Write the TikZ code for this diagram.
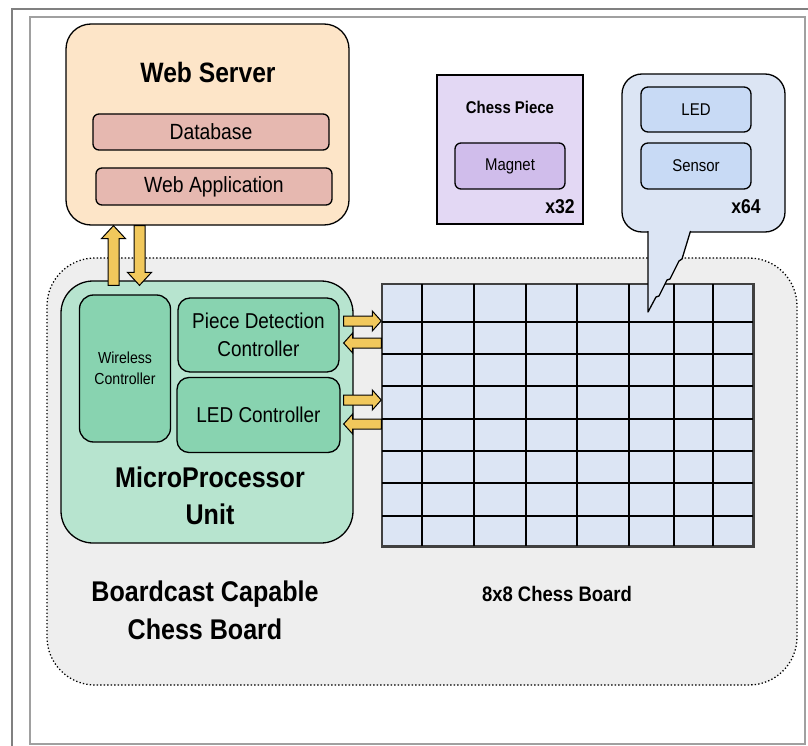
\documentclass[tikz,border=0pt]{standalone}
\usepackage{fontspec}
\setmainfont{Liberation Sans}[FakeStretch=0.88]
\usetikzlibrary{calc}
\definecolor{wsfill}{HTML}{FDE5C8}
\definecolor{dbfill}{HTML}{E6B8B0}
\definecolor{cpfill}{HTML}{E3D8F4}
\definecolor{magfill}{HTML}{D0BDEB}
\definecolor{callfill}{HTML}{DCE5F4}
\definecolor{ledfill}{HTML}{C8DAF5}
\definecolor{regionfill}{HTML}{EEEEEE}
\definecolor{mcufill}{HTML}{B7E4CF}
\definecolor{ctrlfill}{HTML}{88D3B0}
\definecolor{arrowfill}{HTML}{F1C85C}
\definecolor{boardfill}{HTML}{DCE5F4}
\definecolor{frameout}{HTML}{808080}
\definecolor{framein}{HTML}{A0A0A0}
\newcommand{\fsz}[2]{\fontsize{#1}{#2}\selectfont}
\tikzset{
  box/.style={draw=black, line width=1.3pt, inner sep=0pt, align=center},
  lbl/.style={inner sep=0pt, align=center},
  fat/.style={draw=black, line width=1pt, fill=arrowfill},
  gridline/.style={draw=black, line width=1.4pt},
}
% #1 from, #2 to, #3 shaft half width, #4 head half width, #5 head length
\newcommand{\fatarrow}[5]{%
  \path[fat] let \p1=#1, \p2=#2, \n1={atan2(\y2-\y1,\x2-\x1)}, \n2={veclen(\x2-\x1,\y2-\y1)} in
    [shift={(\p1)}, rotate=\n1]
    (0,-#3) -- ({\n2-#5},-#3) -- ({\n2-#5},-#4) -- (\n2,0) -- ({\n2-#5},#4) -- ({\n2-#5},#3) -- (0,#3) -- cycle;}
\begin{document}
\begin{tikzpicture}[x=1pt,y=-1pt]
\useasboundingbox (0,0) rectangle (808,746);
% frames
\draw[frameout, line width=2pt] (12,746) -- (12,9) -- (808,9);
\draw[framein, line width=1.5pt] (30,744) -- (30,17) -- (805,17) -- (805,744) -- cycle;

% web server
\node[box, fill=wsfill, rounded corners=25pt, minimum width=283pt, minimum height=201pt] (ws) at (207.5,124.5) {};
\node[lbl, font=\fsz{28}{32}\bfseries] (wst) at (208,72) {Web Server};
\node[box, fill=dbfill, rounded corners=6pt, minimum width=236pt, minimum height=36pt, font=\fsz{22}{26}] (db) at (211,132) {Database};
\node[box, fill=dbfill, rounded corners=6pt, minimum width=236pt, minimum height=37pt, font=\fsz{22}{26}] (wa) at (214,186.5) {Web Application};

% chess piece
\node[box, fill=cpfill, minimum width=146pt, minimum height=149pt] (cp) at (510,149.5) {};
\node[lbl, font=\fsz{17}{20}\bfseries] (cpt) at (510,107) {Chess Piece};
\node[box, fill=magfill, rounded corners=6pt, minimum width=110pt, minimum height=46pt, font=\fsz{17}{20}] (mag) at (510,166) {Magnet};
\node[lbl, font=\fsz{20}{24}\bfseries] (x32) at (560,207) {x32};

% board region
\node[draw=black, line width=1.3pt, dash pattern=on 1.3pt off 2.2pt, fill=regionfill, rounded corners=48pt, minimum width=750pt, minimum height=427pt, inner sep=0pt] (region) at (422,471.5) {};

% MCU
\node[box, fill=mcufill, rounded corners=32pt, minimum width=292pt, minimum height=262pt] (mcu) at (207,412) {};
\node[box, fill=ctrlfill, rounded corners=14pt, minimum width=91pt, minimum height=147pt, font=\fsz{16}{21}] (wc) at (125,368.5) {Wireless\\Controller};
\node[box, fill=ctrlfill, rounded corners=12pt, minimum width=161pt, minimum height=74pt, font=\fsz{21.5}{28}] (pdc) at (258.5,335) {Piece Detection\\Controller};
\node[box, fill=ctrlfill, rounded corners=12pt, minimum width=163pt, minimum height=75pt, font=\fsz{21.5}{28}] (ledc) at (258.5,415) {LED Controller};
\node[lbl, font=\fsz{28.5}{37}\bfseries] (mcut) at (210,496) {MicroProcessor\\Unit};

% chess board
\node[draw=black!75, line width=1.5pt, fill=boardfill, minimum width=371pt, minimum height=262pt, inner sep=0pt] (board) at (567.5,415) {};
\foreach \gx in {422,474,526,577,629,674,713}
  \draw[gridline] (\gx,284) -- (\gx,546);
\foreach \gy in {322,354,386,419,451,483,516}
  \draw[gridline] (382,\gy) -- (753,\gy);
\draw[draw=black!75, line width=1.5pt] (board.north west) rectangle (board.south east);

% labels
\node[lbl, font=\fsz{28.5}{38}\bfseries] (bcc) at (205,610) {Boardcast Capable\\Chess Board};
\node[lbl, font=\fsz{21}{24}\bfseries] (bdt) at (557,594) {8x8 Chess Board};

% arrows web server <-> MCU
\coordinate (ua) at ($(wc.north)+(-11.5,-9)$);
\coordinate (da) at ($(wc.north)+(14.5,-9)$);
\fatarrow{(ua)}{(ua |- ws.south)}{5.5}{12}{13}
\fatarrow{(da |- ws.south)}{(da)}{5.5}{12}{13}

% arrows controllers <-> board
\coordinate (pa) at ($(pdc.east)+(4,-14)$);
\coordinate (pb) at ($(pdc.east)+(4,8)$);
\coordinate (la) at ($(ledc.east)+(3,-15)$);
\coordinate (lb) at ($(ledc.east)+(3,9)$);
\fatarrow{(pa)}{(pa -| board.west)}{5}{10}{9}
\fatarrow{(pb -| board.west)}{(pb)}{5}{10}{9}
\fatarrow{(la)}{(la -| board.west)}{5}{10}{9}
\fatarrow{(lb -| board.west)}{(lb)}{5}{10}{9}

% callout
\draw[box, fill=callfill, rounded corners=20pt] (622,74) rectangle (785,232);
\fill[callfill] (648.7,230) rectangle (689.5,233.6);
\draw[draw=black, line width=1.3pt, fill=callfill, line join=round]
  (648,231) -- (648,312) -- (656,297) -- (659,296) -- (667,280) -- (670,279) -- (679,261) -- (682,259) -- (690.5,231);
\node[box, fill=ledfill, rounded corners=7pt, minimum width=110pt, minimum height=45pt, font=\fsz{17}{20}] (led) at (696,109.5) {LED};
\node[box, fill=ledfill, rounded corners=7pt, minimum width=110pt, minimum height=46pt, font=\fsz{17}{20}] (sen) at (696,166) {Sensor};
\node[lbl, font=\fsz{20}{24}\bfseries] (x64) at (746,207) {x64};
\end{tikzpicture}
\end{document}
